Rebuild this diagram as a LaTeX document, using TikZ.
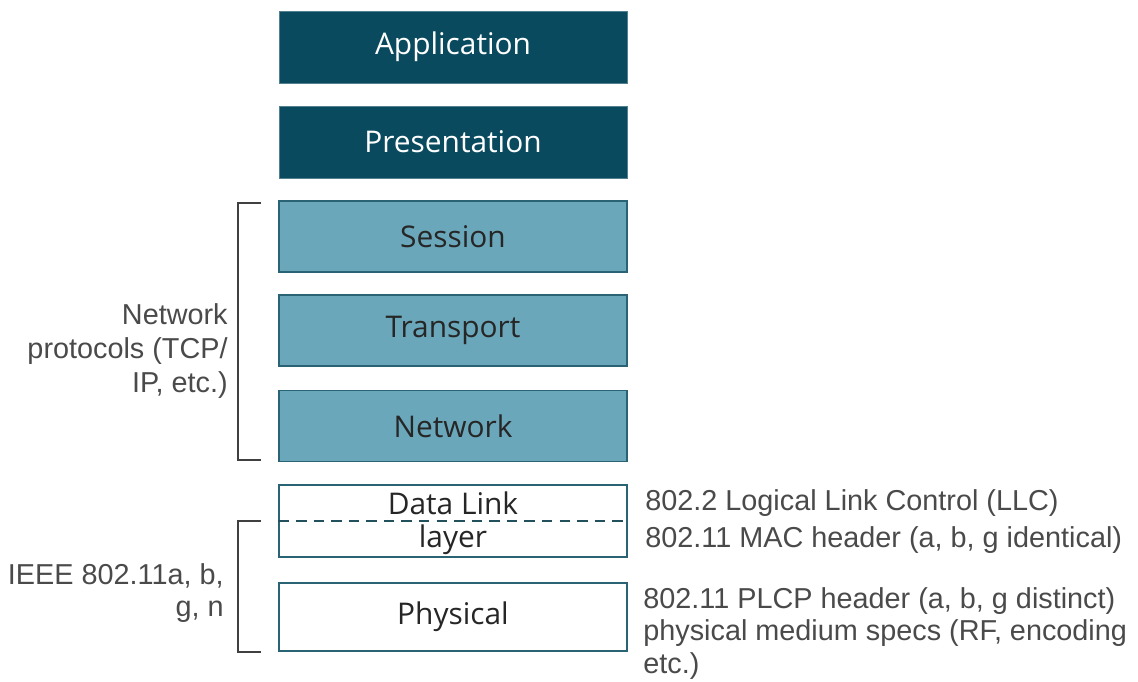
\documentclass[tikz,border=0pt]{standalone}
\usepackage{fontspec}
\setmainfont{Liberation Sans}
\newfontfamily\layerfont{Open Sans}
\newfontfamily\notefont{Liberation Sans}
\usetikzlibrary{positioning}

\definecolor{darkteal}{HTML}{0A4A5F}
\definecolor{lightteal}{HTML}{6AA7BB}
\definecolor{edgeteal}{HTML}{2A6474}
\definecolor{notegray}{HTML}{4A4A4A}

\tikzset{
  layer/.style={rectangle, minimum width=348*0.02cm, inner sep=0pt, font=\layerfont\fontsize{17}{19}\selectfont},
  upper/.style={layer, fill=darkteal, draw=darkteal!70!white, text=white, minimum height=72*0.02cm},
  middle/.style={layer, fill=lightteal, draw=edgeteal, line width=0.8pt, text=black!85, minimum height=71*0.02cm},
  lower/.style={layer, fill=white, draw=edgeteal, line width=0.7pt, text=black!85},
  note/.style={font=\notefont\fontsize{16.4}{18.6}\selectfont, text=notegray, inner sep=0pt},
  bracket/.style={draw=black!75, line width=0.9pt}
}

\begin{document}
\begin{tikzpicture}[x=0.02cm,y=-0.02cm]
  \useasboundingbox (0,0) rectangle (1138,682);

  % Upper layers
  \node[upper] (app) at (453,47) {Application};
  \node[upper] (pres) at (453,142) {Presentation};

  % Network protocol layers
  \node[middle] (sess) at (453,236.5) {Session};
  \node[middle] (trans) at (453,330.5) {Transport};
  \node[middle] (net) at (453,426) {Network};

  % Data link and physical
  \node[lower, minimum height=72*0.02cm] (dl) at (453,521) {};
  \node[font=\layerfont\fontsize{17}{19}\selectfont, text=black!85, inner sep=0pt] (dltop) at (453,503) {Data Link};
  \node[font=\layerfont\fontsize{17}{19}\selectfont, text=black!85, inner sep=0pt] (dlbot) at (453,540) {layer};
  \draw[dashed, edgeteal!80!black, line width=0.8pt, dash pattern=on 6pt off 4pt] (dl.west) -- (dl.east);
  \node[lower, minimum height=68*0.02cm] (phy) at (453,617) {Physical};

  % Brackets
  \draw[bracket] (261,203) -- (238,203) -- (238,460) -- (261,460);
  \draw[bracket] (261,521) -- (238,521) -- (238,652) -- (261,652);

  % Left notes
  \node[note, align=right, anchor=east, font=\notefont\fontsize{16.4}{19.2}\selectfont] (netnote) at (228,351) {Network\\protocols (TCP/\\IP, etc.)};
  \node[note, align=right, anchor=east] (ieee) at (224,593) {IEEE 802.11a, b,\\g, n};

  % Right notes
  \node[note, anchor=west] (llc) at (645,503) {802.2 Logical Link Control (LLC)};
  \node[note, anchor=west] (mac) at (645,540) {802.11 MAC header (a, b, g identical)};
  \node[note, anchor=north west, align=left] (plcp) at (643,587) {802.11 PLCP header (a, b, g distinct)\\physical medium specs (RF, encoding\\etc.)};
\end{tikzpicture}
\end{document}
